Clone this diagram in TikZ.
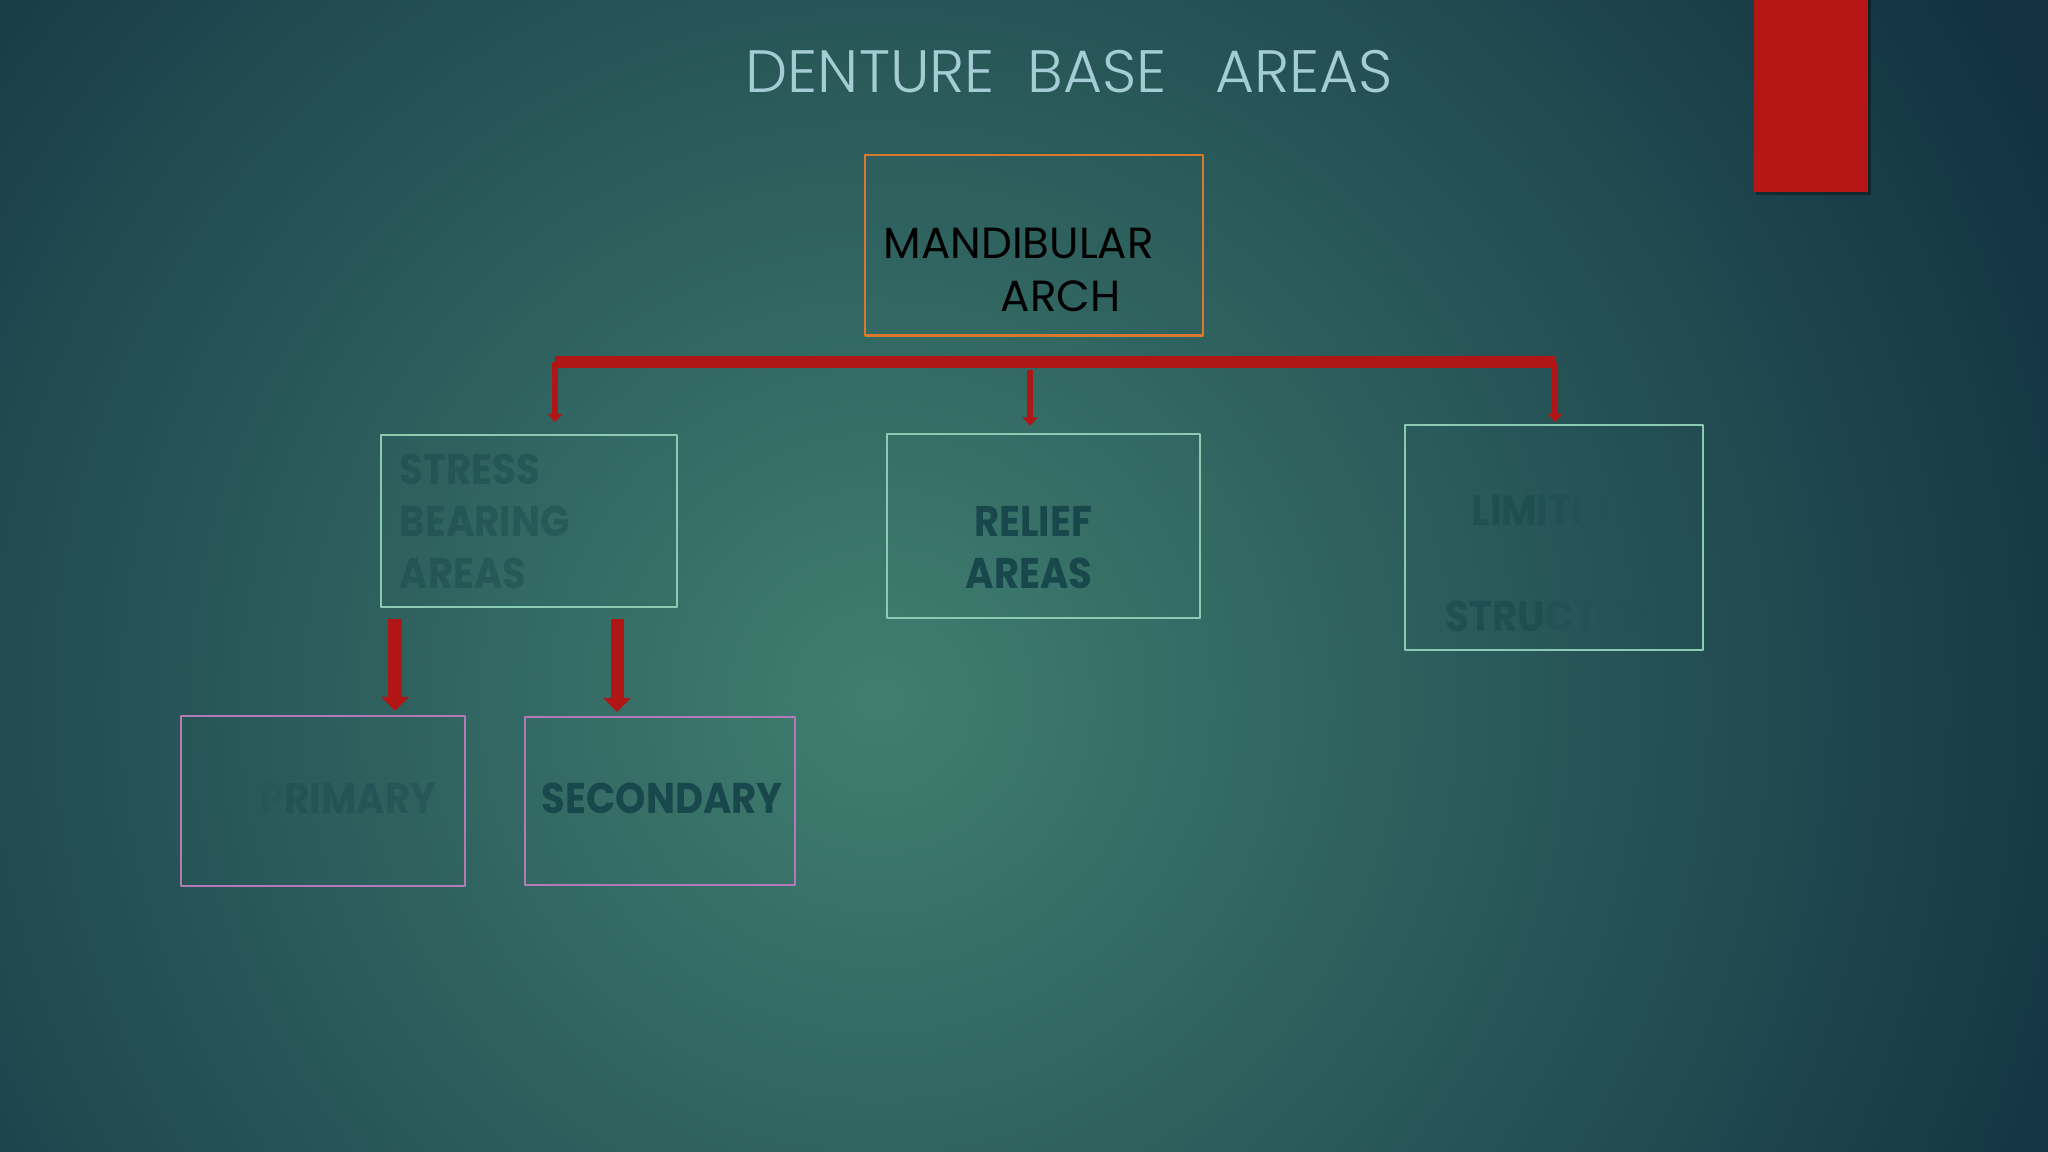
\documentclass[tikz,border=0pt]{standalone}
\usepackage{fontspec}
\setmainfont{Poppins}[FakeStretch=0.9]
\newfontfamily\titlefont{Poppins Light}[FakeStretch=1.0]
\newfontfamily\archfont{Poppins}[FakeStretch=1.0]
\usetikzlibrary{arrows.meta}

\definecolor{bginner}{RGB}{64,126,112}
\definecolor{bgouter}{RGB}{18,50,66}
\definecolor{titlecol}{RGB}{164,204,212}
\definecolor{barred}{RGB}{176,22,22}
\definecolor{archline}{RGB}{216,122,44}
\definecolor{tealline}{RGB}{140,202,180}
\definecolor{violine}{RGB}{180,122,184}
\definecolor{boxtext}{RGB}{24,72,76}

% one faded letter
\newcommand\fl[2]{\pgfsetfillopacity{#1}#2}

\begin{document}
\begin{tikzpicture}[x=0.01cm, y=-0.01cm, line join=round,
	box/.style={draw, line width=0.6pt, inner sep=0pt, outer sep=0pt},
	arch box/.style={box, draw=archline},
	teal box/.style={box, draw=tealline},
	vio box/.style={box, draw=violine},
	arch text/.style={anchor=base west, inner sep=0pt, text=black, font=\archfont\fontsize{12.4}{14}\selectfont},
	bold text/.style={anchor=base west, inner sep=0pt, text=boxtext, font=\bfseries\fontsize{12.2}{14}\selectfont},
	redbar/.style={draw=barred, line width=0.12cm},
	smallarrow/.style={draw=barred, line width=1.7pt, -{Triangle[width=4.2pt,length=2.4pt]}},
	bigarrow/.style={draw=barred, line width=3.7pt, -{Triangle[width=7.6pt,length=4pt]}}]
	\useasboundingbox (0,0) rectangle (2048,1152);
	% background
	\fill[bgouter] (0,0) rectangle (2048,1152);
	\begin{scope}
		\clip (0,0) rectangle (2048,1152);
		\shade[inner color=bginner, outer color=bgouter] (-420,-600) rectangle (2180,2000);
	\end{scope}
	\fill[black, opacity=0.35] (1756,0) rectangle (1871,195);
	\fill[barred!95!red] (1754,0) rectangle (1868,192);

	\node[anchor=base west, inner sep=0pt, text=titlecol, font=\titlefont\fontsize{17}{20}\selectfont] (title) at (745,93) {DENTURE\ \ BASE\ \ \ AREAS};

	% boxes
	\node[arch box, minimum width=3.38cm, minimum height=1.80cm] (arch) at (1034,245.5) {};
	\node[teal box, minimum width=2.96cm, minimum height=1.72cm] (stress) at (529,521) {};
	\node[teal box, minimum width=3.13cm, minimum height=1.84cm] (relief) at (1043.5,526) {};
	\node[teal box, minimum width=2.98cm, minimum height=2.25cm] (limit) at (1554,537.5) {};
	\node[vio box, minimum width=2.84cm, minimum height=1.70cm] (primary) at (323,801) {};
	\node[vio box, minimum width=2.70cm, minimum height=1.68cm] (secondary) at (660,801) {};

	% texts
	\node[arch text] (mandtxt) at (883,259) {MANDIBULAR};
	\node[arch text] (archtxt) at (1000,312) {ARCH};
	\foreach \t/\y in {STRESS/485,BEARING/537,AREAS/589}
		\node[bold text, text opacity=0.45] (stress-\t) at (399,\y) {\t};
	\node[bold text, anchor=base east] (relieftxt) at (1093,537) {RELIEF};
	\node[bold text, anchor=base east] (areastxt) at (1093,589) {AREAS};
	\node[bold text] (limtxt) at (1471,526) {\fl{.5}{L}\fl{.5}{I}\fl{.48}{M}\fl{.42}{I}\fl{.3}{T}\fl{.18}{I}\fl{.05}{N}\fl{0}{G}};
	\node[bold text] (structxt) at (1445,632) {\fl{.6}{S}\fl{.6}{T}\fl{.58}{R}\fl{.5}{U}\fl{.3}{C}\fl{.18}{T}\fl{.08}{U}\fl{.02}{R}\fl{0}{E}\fl{0}{S}};
	\node[bold text] (primtxt) at (260,813) {\fl{.15}{P}\fl{.38}{RIMARY}};
	\node[bold text] (sectxt) at (541,813) {SECONDARY};

	% connectors
	\coordinate (barL) at (555,362);
	\coordinate (barR) at (1555,362);
	\coordinate (barM) at (1030,370);
	\draw[redbar] (barL) -- (barR);
	\draw[smallarrow, shorten >=3.6pt] (barL) -- (barL |- stress.north);
	\draw[smallarrow, shorten >=2.3pt] (barM) -- (barM |- relief.north);
	\draw[smallarrow, shorten >=0.8pt] (barR) -- (barR |- limit.north);
	\coordinate (p1) at (395,619);
	\coordinate (p2) at (617,619);
	\draw[bigarrow, shorten >=1.4pt] (p1) -- (p1 |- primary.north);
	\draw[bigarrow, shorten >=1.4pt] (p2) -- (p2 |- secondary.north);
\end{tikzpicture}
\end{document}
